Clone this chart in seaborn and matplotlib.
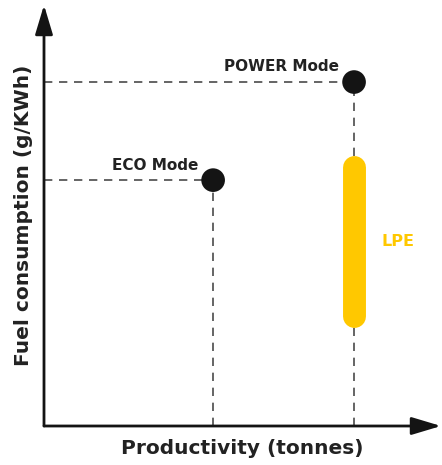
import matplotlib
matplotlib.use('Agg')
import matplotlib.pyplot as plt
import seaborn as sns
import pandas as pd

# values (arbitrary units, axes span 0..100)
modes = ['ECO Mode', 'POWER Mode']
productivity = [42.6, 78.1]
consumption = [58.4, 81.7]
lpe_x = [78.1, 78.1]
lpe_y = [26.1, 61.5]

sns.set_style('white')
plt.rcParams['font.family'] = ['DejaVu Sans']

dark = '#141414'
yellow = '#FFC800'

fig = plt.figure(figsize=(4.42, 4.65), dpi=100)
ax = fig.add_axes([44 / 442, 39 / 465, 397 / 442, 421 / 465])
ax.set_xlim(0, 100)
ax.set_ylim(0, 100)

# dashed guides to the axes
for x, y in zip(productivity, consumption):
    ax.plot([0, x], [y, y], ls=(0, (5, 4)), color='#4a4a4a', lw=1.2, zorder=1)
    ax.plot([x, x], [0, y], ls=(0, (5, 4)), color='#4a4a4a', lw=1.2, zorder=1)

# LPE range as a thick rounded bar
ax.plot(lpe_x, lpe_y, color=yellow, linewidth=16.5, solid_capstyle='round', zorder=2)

df = pd.DataFrame({'Productivity': productivity, 'Consumption': consumption, 'Mode': modes})
sns.scatterplot(data=df, x='Productivity', y='Consumption', s=290, color=dark,
                edgecolor='none', ax=ax, zorder=3)

ax.text(productivity[0] - 3.8, consumption[0] + 1.8, 'ECO Mode', ha='right', va='bottom',
        fontsize=11, fontweight='bold', color='#222222')
ax.text(productivity[1] - 3.8, consumption[1] + 1.8, 'POWER Mode', ha='right', va='bottom',
        fontsize=11, fontweight='bold', color='#222222')
ax.text(lpe_x[0] + 7, (lpe_y[0] + lpe_y[1]) / 2, 'LPE', ha='left', va='center',
        fontsize=11.5, fontweight='bold', color=yellow)

for s in ax.spines.values():
    s.set_visible(False)
ax.set_xticks([])
ax.set_yticks([])
ax.set_xlabel('')
ax.set_ylabel('')

# axes with arrow heads
arrow = dict(arrowstyle='-|>,head_length=1.5,head_width=0.45', color=dark, lw=2,
             shrinkA=0, shrinkB=0, mutation_scale=12)
ax.annotate('', xy=(0, 1), xytext=(0, 0), xycoords='axes fraction', arrowprops=arrow,
            annotation_clip=False)
ax.annotate('', xy=(1, 0), xytext=(0, 0), xycoords='axes fraction', arrowprops=arrow,
            annotation_clip=False)

ax.set_xlabel('Productivity (tonnes)', fontsize=14.5, fontweight='bold', color='#222222', labelpad=9)
ax.set_ylabel('Fuel consumption (g/KWh)', fontsize=14.5, fontweight='bold', color='#222222', labelpad=8)

fig.savefig('out.png', dpi=100)
